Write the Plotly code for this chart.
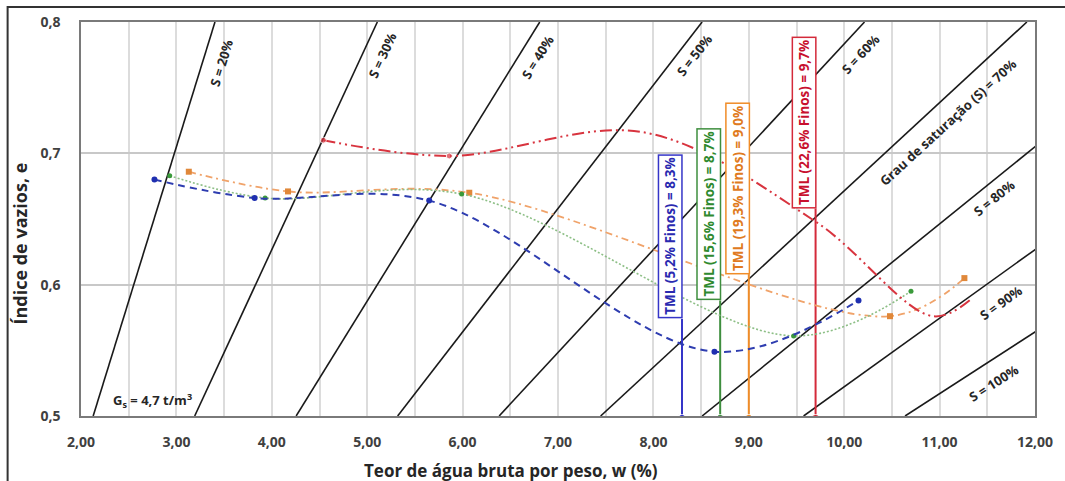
import math
import plotly.graph_objects as go

# ---------------- data ----------------
GS = 4.7  # t/m3
sat_levels = [20, 30, 40, 50, 60, 70, 80, 90, 100]
e_range = [0.5, 0.8]

blue_w = [2.77, 3.82, 5.65, 8.64, 10.15]
blue_e = [0.680, 0.666, 0.664, 0.549, 0.588]

green_w = [2.93, 3.93, 5.99, 9.47, 10.70]
green_e = [0.683, 0.666, 0.669, 0.561, 0.595]

orange_w = [3.13, 4.17, 6.07, 10.48, 11.26]
orange_e = [0.686, 0.671, 0.670, 0.576, 0.605]

red_w = [4.54, 5.86, 7.90, 9.70, 10.93, 11.33]
red_e = [0.710, 0.698, 0.716, 0.648, 0.576, 0.589]

tml_values = [8.3, 8.7, 9.0, 9.7]
tml_labels = ["TML (5,2% Finos) = 8,3%", "TML (15,6% Finos) = 8,7%",
              "TML (19,3% Finos) = 9,0%", "TML (22,6% Finos) = 9,7%"]

x_ticks = [2, 3, 4, 5, 6, 7, 8, 9, 10, 11, 12]
y_ticks = [0.5, 0.6, 0.7, 0.8]

# ---------------- styling ----------------
FONT = "Open Sans"
TXT = "#262626"
tml_line_colors = ["#3535C8", "#3E8E3E", "#F08C28", "#D42A3A"]
tml_text_colors = ["#2A2AB0", "#2F8A2F", "#E07A20", "#C8102E"]
tml_box_bottom = [0.574, 0.588, 0.608, 0.658]

fig = go.Figure()

# saturation lines e = w*Gs/S
for S in sat_levels:
    ws = [e * S / GS for e in e_range]
    fig.add_trace(go.Scatter(x=ws, y=e_range, mode="lines",
                             line=dict(color="#1a1a1a", width=1.6),
                             hoverinfo="skip", showlegend=False))

# TML vertical lines
for i, t in enumerate(tml_values):
    fig.add_trace(go.Scatter(x=[t, t], y=[0.5, tml_box_bottom[i]], mode="lines+markers",
                             line=dict(color=tml_line_colors[i], width=2),
                             marker=dict(symbol="triangle-down", size=[6, 0],
                                         color=tml_line_colors[i]),
                             showlegend=False))

# series curves
fig.add_trace(go.Scatter(x=orange_w, y=orange_e, mode="lines+markers",
                         line=dict(color="#F0A36A", width=1.8, dash="7px,4px,2px,4px",
                                   shape="spline", smoothing=1.0),
                         marker=dict(symbol="square", size=6, color="#E0883A"),
                         showlegend=False))
fig.add_trace(go.Scatter(x=green_w, y=green_e, mode="lines+markers",
                         line=dict(color="#8DBF86", width=1.6, dash="2px,2px",
                                   shape="spline", smoothing=1.0),
                         marker=dict(symbol="circle", size=5, color="#3A9A3A"),
                         showlegend=False))
fig.add_trace(go.Scatter(x=blue_w, y=blue_e, mode="lines+markers",
                         line=dict(color="#2E3DB0", width=2, dash="7px,5px",
                                   shape="spline", smoothing=1.0),
                         marker=dict(symbol="circle", size=6, color="#1F2FB0"),
                         showlegend=False))
fig.add_trace(go.Scatter(x=red_w, y=red_e, mode="lines+markers",
                         line=dict(color="#D8343F", width=2, dash="12px,4px,2px,4px,2px,4px",
                                   shape="spline", smoothing=1.0),
                         marker=dict(symbol="circle", size=[6, 6, 0, 0, 0, 0], color="#D8343F"),
                         showlegend=False))

# ---------------- annotations ----------------
PX_X = 962 / 10.0
PX_E = 394 / 0.3
ann = []
label_pos = {20: (3.47, 0.769), 30: (5.16, 0.775), 40: (6.79, 0.773), 50: (8.43, 0.775),
             60: (10.17, 0.776), 70: (11.09, 0.724), 80: (11.57, 0.666),
             90: (11.64, 0.586), 100: (11.57, 0.525)}
for S in sat_levels:
    ang = math.degrees(math.atan((GS / S) * PX_E / PX_X))
    txt = "Grau de saturação (S) = 70%" if S == 70 else f"S = {S}%"
    lx, ly = label_pos[S]
    ann.append(dict(x=lx, y=ly, xref="x", yref="y", text=txt, showarrow=False,
                    textangle=-ang, font=dict(family=FONT, size=13, color=TXT, weight="bold")))

for i, t in enumerate(tml_values):
    ann.append(dict(x=t, y=tml_box_bottom[i], xref="x", yref="y", text=tml_labels[i],
                    showarrow=False, textangle=-90, xanchor="right", yanchor="bottom",
                    xshift=1, bgcolor="white", bordercolor=tml_line_colors[i],
                    borderwidth=1.5, borderpad=2,
                    font=dict(family=FONT, size=13.5, color=tml_text_colors[i], weight="bold")))

ann.append(dict(x=2.75, y=0.512, xref="x", yref="y",
                text="G<sub>s</sub> = 4,7 t/m<sup>3</sup>", showarrow=False,
                font=dict(family=FONT, size=13, color=TXT, weight="bold")))

# axis titles
ann.append(dict(x=(515 - 81) / 962, y=-(470 - 416) / 394, xref="paper", yref="paper",
                text="Teor de água bruta por peso, w (%)", showarrow=False,
                xanchor="center", yanchor="middle",
                font=dict(family=FONT, size=17, color=TXT, weight="bold")))
ann.append(dict(x=(19 - 81) / 962, y=(416 - 244) / 394, xref="paper", yref="paper",
                text="Índice de vazios, e", showarrow=False, textangle=-90,
                xanchor="center", yanchor="middle",
                font=dict(family=FONT, size=18, color=TXT, weight="bold")))

fig.update_layout(
    width=1065, height=481,
    margin=dict(l=81, r=22, t=22, b=65),
    paper_bgcolor="white", plot_bgcolor="white",
    separators=",.",
    annotations=ann,
    shapes=[dict(type="rect", xref="paper", yref="paper",
                 x0=(7 - 81) / 962, x1=(1075 - 81) / 962,
                 y0=-(495 - 416) / 394, y1=1 + (22 - 7) / 394,
                 line=dict(color="#333333", width=2), layer="below")],
)

fig.update_xaxes(range=[2, 12], tickvals=x_ticks, tickformat=".2f",
                 showgrid=True, gridcolor="#dcdcdc", gridwidth=1.5,
                 minor=dict(dtick=0.5, showgrid=True, gridcolor="#dcdcdc", gridwidth=1.5),
                 showline=True, linecolor="#7a7a7a", linewidth=1.5, mirror=True,
                 zeroline=False, ticks="", ticklabelstandoff=12,
                 tickfont=dict(family=FONT, size=14, color="#404040", weight="bold"))
fig.update_yaxes(range=[0.5, 0.8], tickvals=y_ticks, tickformat=".1f",
                 showgrid=True, gridcolor="#c8c8c8", gridwidth=2,
                 showline=True, linecolor="#7a7a7a", linewidth=1.5, mirror=True,
                 zeroline=False, ticks="", ticklabelstandoff=16,
                 tickfont=dict(family=FONT, size=14, color="#404040", weight="bold"))

fig.write_html("out.html")
